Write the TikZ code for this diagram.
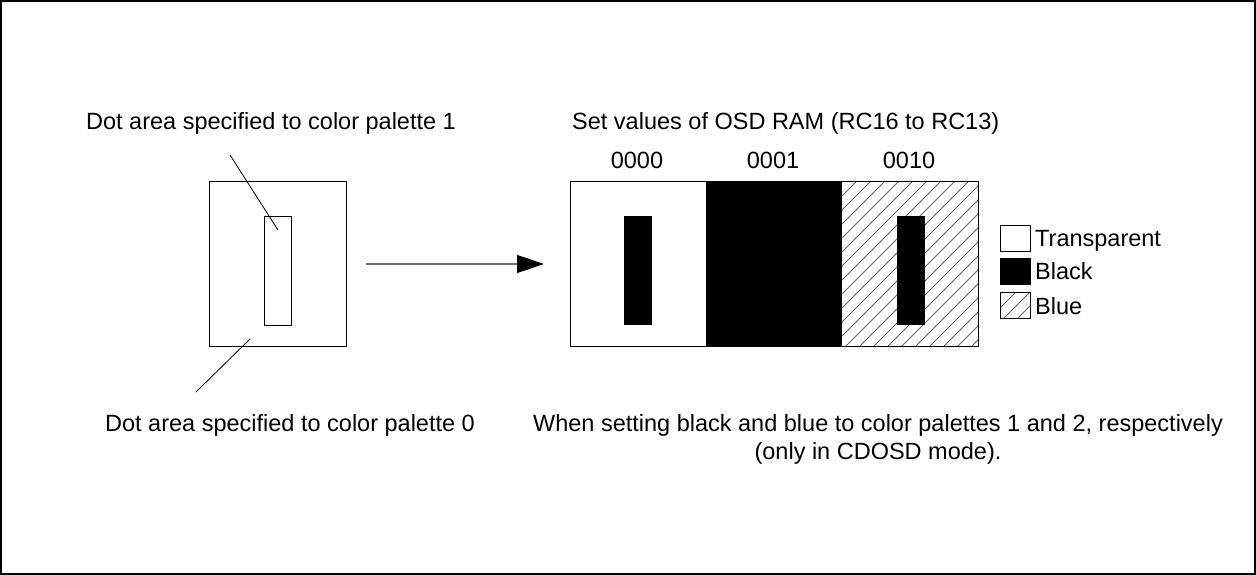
\documentclass[tikz,border=0pt]{standalone}
\usepackage{fontspec}
\setmainfont{Liberation Sans}
\usetikzlibrary{arrows.meta}
\begin{document}
\begin{tikzpicture}[x=1pt,y=-1pt,
  font=\fontsize{23.5}{28}\selectfont,
  box/.style={draw, line width=1pt, inner sep=0pt, outer sep=0pt},
  lbl/.style={inner sep=0pt, anchor=base},
  hatchline/.style={draw=black!60, line width=1pt},
  leader/.style={draw, line width=0.8pt}]
\useasboundingbox (0,0) rectangle (1256,575);
\draw[line width=1.2pt] (1,1) rectangle (1255,574);

% left picture
\node[box, minimum width=137pt, minimum height=164pt] (src) at (277.5,264) {};
\node[box, minimum width=27pt, minimum height=109pt] (dot1) at (277.5,270.5) {};
\coordinate (l1a) at (230,155);
\coordinate (l1b) at (278,230);
\coordinate (l0a) at (250,339);
\coordinate (l0b) at (196,392);
\draw[leader] (l1a) -- (l1b);
\draw[leader] (l0a) -- (l0b);

\node[lbl] (t1) at (271,130) {Dot area specified to color palette 1};
\node[lbl] (t0) at (290,431) {Dot area specified to color palette 0};

% arrow
\coordinate (as) at (366,264);
\coordinate (ae) at (544,264);
\draw[draw=black!55, line width=1.2pt, -{Triangle[length=27pt,width=18pt,color=black]}] (as) -- (ae);

% result
\node[lbl, anchor=base west] (tset) at (572,130) {Set values of OSD RAM (RC16 to RC13)};
\node[lbl] (v0) at (637,168) {0000};
\node[lbl] (v1) at (773,168) {0001};
\node[lbl] (v2) at (909,168) {0010};

\node[inner sep=0pt, outer sep=0pt, minimum width=136pt, minimum height=164pt, fill=white] (c0) at (638,264) {};
\node[inner sep=0pt, outer sep=0pt, minimum width=136pt, minimum height=164pt, fill=black] (c1) at (774,264) {};
\node[inner sep=0pt, outer sep=0pt, minimum width=136pt, minimum height=164pt] (c2) at (910,264) {};
\begin{scope}
  \clip (842,182) rectangle (978,346);
  \foreach \x in {664,678,...,992} {
    \draw[hatchline] (\x,346) -- ++(164,-164);
  }
\end{scope}
\draw[line width=1pt] (c0.north west) rectangle (c2.south east);
\node[inner sep=0pt, outer sep=0pt, minimum width=28pt, minimum height=109pt, fill=black] (b0) at (638,270.5) {};
\node[inner sep=0pt, outer sep=0pt, minimum width=28pt, minimum height=109pt, fill=black] (b2) at (910.5,270.5) {};

% legend
\node[box, minimum width=30pt, minimum height=26pt, fill=white] (k0) at (1015,238) {};
\node[box, minimum width=30pt, minimum height=26pt, fill=black] (k1) at (1015,271) {};
\node[box, minimum width=30pt, minimum height=26pt] (k2) at (1015,305) {};
\begin{scope}
  \clip (1000,292) rectangle (1030,318);
  \foreach \x in {976,990,1004,1018} {
    \draw[hatchline] (\x,318) -- ++(30,-30);
  }
\end{scope}
\draw[line width=1pt] (k2.north west) rectangle (k2.south east);
\node[lbl, anchor=base west] (kt0) at (1035,246) {Transparent};
\node[lbl, anchor=base west] (kt1) at (1035,279.5) {Black};
\node[lbl, anchor=base west] (kt2) at (1035,314) {Blue};

% caption
\node[lbl] (cap1) at (878,431) {When setting black and blue to color palettes 1 and 2, respectively};
\node[lbl] (cap2) at (878,459) {(only in CDOSD mode).};
\end{tikzpicture}
\end{document}
